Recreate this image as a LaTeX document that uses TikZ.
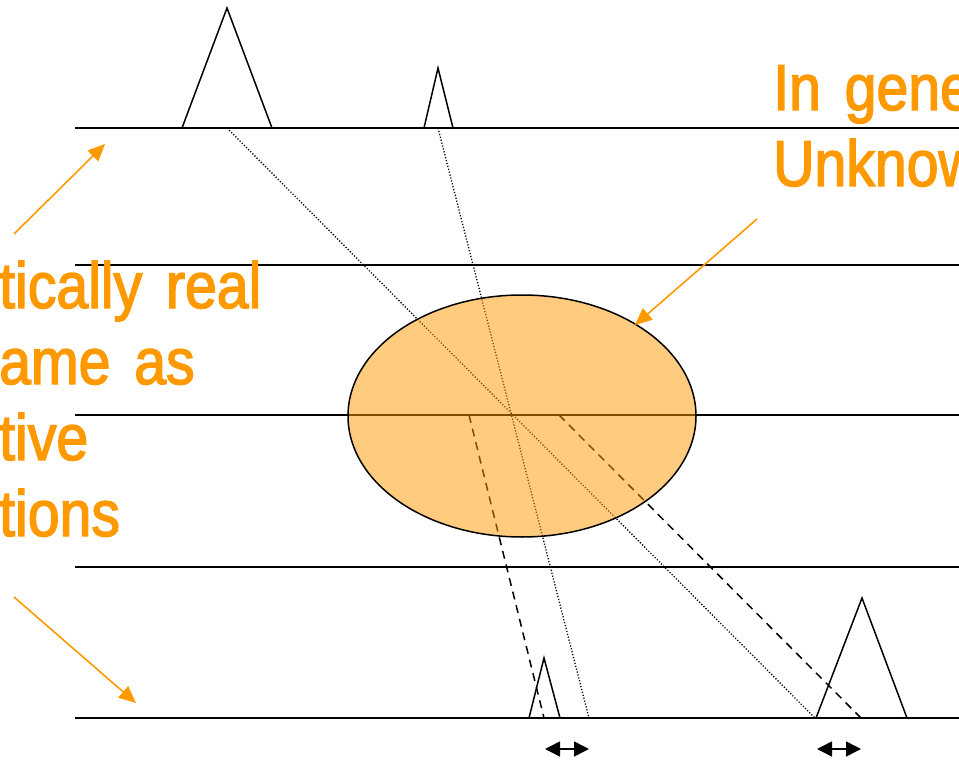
\documentclass[tikz,border=0pt]{standalone}
\usepackage{fontspec}
\setmainfont{Liberation Sans}
\newfontfamily\lblfont[FakeStretch=0.88,FakeBold=2.2,WordSpace=1.5]{Liberation Sans}
\usetikzlibrary{arrows.meta,shapes.geometric}
\definecolor{org}{RGB}{255,153,0}
\tikzset{
  axisline/.style={line width=1.5pt},
  peakline/.style={line width=1.5pt, line join=miter},
  dotline/.style={line width=1.3pt, dash pattern=on 1.2pt off 1.8pt},
  dashline/.style={line width=1.5pt, dash pattern=on 8pt off 6pt},
  orgarrow/.style={draw=org, line width=1.6pt, -{Triangle[length=17pt,width=15pt]}},
  blkarrow/.style={line width=1.5pt, {Triangle[length=15pt,width=15pt]}-{Triangle[length=15pt,width=15pt]}},
  lbltext/.style={text=org, font=\lblfont\fontsize{65}{76}\selectfont, inner sep=0pt, align=left, anchor=base west},
  blob/.style={draw=black, line width=1.5pt, fill=org, fill opacity=0.5, draw opacity=1}
}
\begin{document}
\begin{tikzpicture}[x=1pt,y=-1pt]
\useasboundingbox (0,0) rectangle (959,760);
\begin{scope}
\clip (0,0) rectangle (959,760);
% horizontal lines
\coordinate (a1) at (75,128); \coordinate (b1) at (959,128);
\coordinate (a2) at (75,265); \coordinate (b2) at (959,265);
\coordinate (a3) at (75,415); \coordinate (b3) at (959,415);
\coordinate (a4) at (75,567); \coordinate (b4) at (959,567);
\coordinate (a5) at (75,718); \coordinate (b5) at (959,718);
\foreach \i in {1,...,5} {\draw[axisline] (a\i) -- (b\i);}
% peaks top
\coordinate (p1l) at (182,128); \coordinate (p1t) at (227,8); \coordinate (p1r) at (272,128);
\coordinate (p2l) at (424,128); \coordinate (p2t) at (438,68); \coordinate (p2r) at (453,128);
\draw[peakline] (p1l) -- (p1t) -- (p1r);
\draw[peakline] (p2l) -- (p2t) -- (p2r);
% peaks bottom
\coordinate (q1l) at (529,718); \coordinate (q1t) at (544,658); \coordinate (q1r) at (560,718);
\coordinate (q2l) at (816,718); \coordinate (q2t) at (862,598); \coordinate (q2r) at (907,718);
\draw[peakline] (q1l) -- (q1t) -- (q1r);
\draw[peakline] (q2l) -- (q2t) -- (q2r);
% dotted rays
\coordinate (d1s) at (227,128); \coordinate (d1e) at (815,718);
\coordinate (d2s) at (438,128); \coordinate (d2e) at (589,718);
\draw[dotline] (d1s) -- (d1e);
\draw[dotline] (d2s) -- (d2e);
% dashed rays
\coordinate (e1s) at (469,415); \coordinate (e1e) at (544,718);
\coordinate (e2s) at (559,415); \coordinate (e2e) at (861,718);
\draw[dashline] (e1s) -- (e1e);
\draw[dashline] (e2s) -- (e2e);
% ellipse
\node[blob, ellipse, minimum width=348pt, minimum height=242pt, inner sep=0pt] (obj) at (522,416) {};
% double arrows
\coordinate (h1a) at (545,749); \coordinate (h1b) at (589,749);
\coordinate (h2a) at (817,749); \coordinate (h2b) at (861,749);
\draw[blkarrow] (h1a) -- (h1b);
\draw[blkarrow] (h2a) -- (h2b);
% texts (base anchor = baseline of last line)
\node[lbltext] (lefttxt) at (-1,536) {tically real\\ame as\\tive\\tions};
\node[lbltext] (righttxt) at (773,186) {In gene\\Unknow};
% orange arrows
\coordinate (o1s) at (14,234); \coordinate (o1e) at (105,144);
\coordinate (o2s) at (14,597); \coordinate (o2e) at (136,703);
\coordinate (o3s) at (757,219); \coordinate (o3e) at (635,325);
\draw[orgarrow] (o1s) -- (o1e);
\draw[orgarrow] (o2s) -- (o2e);
\draw[orgarrow] (o3s) -- (o3e);
\end{scope}
\end{tikzpicture}
\end{document}
